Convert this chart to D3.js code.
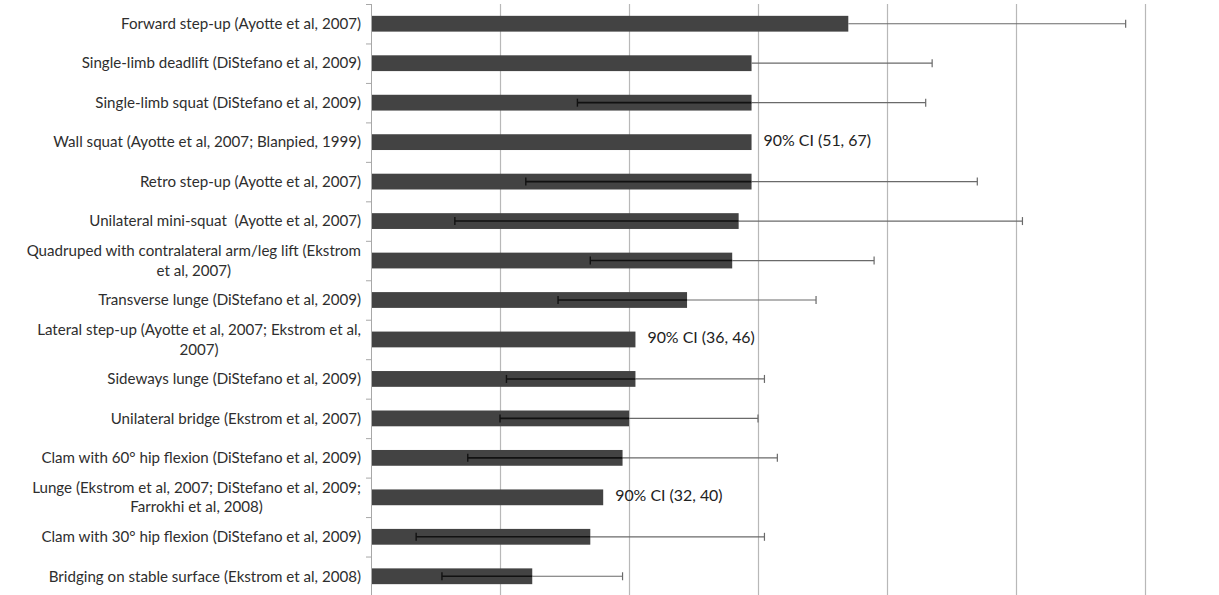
<!DOCTYPE html>
<html>
<head>
<meta charset="utf-8">
<script src="https://cdn.jsdelivr.net/npm/d3@7"></script>
<style>
  html, body { margin: 0; padding: 0; background: #ffffff; }
  svg { display: block; }
  text { font-family: Lato, "Open Sans", sans-serif; }
</style>
</head>
<body>
<svg id="chart" width="1219" height="595"></svg>
<script>
// ---- data ----
const categories = [
  "Forward step-up (Ayotte et al, 2007)",
  "Single-limb deadlift (DiStefano et al, 2009)",
  "Single-limb squat (DiStefano et al, 2009)",
  "Wall squat (Ayotte et al, 2007; Blanpied, 1999)",
  "Retro step-up (Ayotte et al, 2007)",
  "Unilateral mini-squat  (Ayotte et al, 2007)",
  "Quadruped with contralateral arm/leg lift (Ekstrom\net al, 2007)",
  "Transverse lunge (DiStefano et al, 2009)",
  "Lateral step-up (Ayotte et al, 2007; Ekstrom et al,\n2007)",
  "Sideways lunge (DiStefano et al, 2009)",
  "Unilateral bridge (Ekstrom et al, 2007)",
  "Clam with 60° hip flexion (DiStefano et al, 2009)",
  "Lunge (Ekstrom et al, 2007; DiStefano et al, 2009;\nFarrokhi et al, 2008)",
  "Clam with 30° hip flexion (DiStefano et al, 2009)",
  "Bridging on stable surface (Ekstrom et al, 2008)"
];
const means  = [74, 59, 59, 59, 59, 57, 56, 49, 41, 41, 40, 39, 36, 34, 25];
const lower  = [null, null, 32, null, 24, 13, 34, 29, null, 21, 20, 15, null, 7, 11];
const upper  = [117, 87, 86, null, 94, 101, 78, 69, null, 61, 60, 63, null, 61, 39];
const ciLabels = [null, null, null, "90% CI (51, 67)", null, null, null, null,
                  "90% CI (36, 46)", null, null, null, "90% CI (32, 40)", null, null];
const xTicks = [0, 20, 40, 60, 80, 100, 120, 140];

// ---- layout ----
const svg = d3.select("#chart");
const plotLeft = 371, plotTop = 4, plotBottom = 596;
const x = d3.scaleLinear().domain([0, 140]).range([plotLeft, plotLeft + 7 * 129]);
const y = d3.scaleBand().domain(d3.range(categories.length)).range([plotTop, plotBottom])
  .paddingInner(0.6).paddingOuter(0.3);
const step = y.step();

// font sizing to mimic Calibri metrics
function fitSize(str, target, base) {
  const t = svg.append("text").attr("font-size", base).text(str);
  const w = t.node().getComputedTextLength();
  t.remove();
  return base * target / w;
}
const labelSize = fitSize("Forward step-up (Ayotte et al, 2007)", 240, 20);
const ciSize = fitSize("90% CI (51, 67)", 107.5, 20);

// gridlines
svg.append("g").selectAll("line").data(xTicks.slice(1)).join("line")
  .attr("x1", d => Math.round(x(d)) + 0.5).attr("x2", d => Math.round(x(d)) + 0.5)
  .attr("y1", plotTop).attr("y2", plotBottom)
  .attr("stroke", "#b8b8b8").attr("stroke-width", 1.2);

// bars
svg.append("g").selectAll("rect").data(means).join("rect")
  .attr("x", x(0)).attr("y", (d, i) => y(i))
  .attr("width", d => x(d) - x(0)).attr("height", y.bandwidth())
  .attr("fill", "#434343");

// y axis line and ticks between categories
const axisG = svg.append("g");
axisG.append("line").attr("x1", plotLeft + 0.5).attr("x2", plotLeft + 0.5)
  .attr("y1", plotTop).attr("y2", plotBottom).attr("stroke", "#a8a8a8").attr("stroke-width", 1);
axisG.selectAll("line.tk").data(d3.range(categories.length + 1)).join("line")
  .attr("class", "tk")
  .attr("x1", plotLeft - 5).attr("x2", plotLeft)
  .attr("y1", i => plotTop + i * step + 0.5).attr("y2", i => plotTop + i * step + 0.5)
  .attr("stroke", "#a8a8a8").attr("stroke-width", 1);

// error bars
const eb = svg.append("g");
means.forEach((m, i) => {
  if (upper[i] == null) return;
  const cy = y(i) + y.bandwidth() / 2;
  const lo = lower[i] == null ? m : lower[i];
  eb.append("line").attr("x1", x(lo)).attr("x2", x(m)).attr("y1", cy).attr("y2", cy)
    .attr("stroke", "#111").attr("stroke-width", 1.6);
  eb.append("line").attr("x1", x(m)).attr("x2", x(upper[i])).attr("y1", cy).attr("y2", cy)
    .attr("stroke", "#6a6a6a").attr("stroke-width", 1.2);
  eb.append("line").attr("x1", x(upper[i])).attr("x2", x(upper[i]))
    .attr("y1", cy - 4).attr("y2", cy + 4).attr("stroke", "#6a6a6a").attr("stroke-width", 1.2);
  if (lower[i] != null) {
    eb.append("line").attr("x1", x(lo)).attr("x2", x(lo))
      .attr("y1", cy - 4).attr("y2", cy + 4).attr("stroke", "#111").attr("stroke-width", 1.4);
  }
});

// category labels (wrapped lines centred on each other, block right aligned)
const lab = svg.append("g").attr("font-size", labelSize).attr("fill", "#2e2e2e");
categories.forEach((c, i) => {
  const lines = c.split("\n");
  const cy = y(i) + y.bandwidth() / 2;
  const g = lab.append("g");
  const ts = lines.map(l => g.append("text").attr("xml:space", "preserve")
    .style("white-space", "pre").text(l));
  const widths = ts.map(t => t.node().getComputedTextLength());
  const W = Math.max(...widths);
  const lh = 19.5;
  ts.forEach((t, k) => {
    const off = (k - (lines.length - 1) / 2) * lh;
    t.attr("x", 361 - W / 2).attr("text-anchor", "middle")
     .attr("y", cy + off).attr("dy", "0.35em");
  });
});

// CI annotations
svg.append("g").attr("font-size", ciSize).attr("fill", "#222")
  .selectAll("text").data(ciLabels.map((t, i) => ({t, i})).filter(d => d.t))
  .join("text")
  .attr("x", d => x(means[d.i]) + 12)
  .attr("y", d => y(d.i) + y.bandwidth() / 2 - 2).attr("dy", "0.35em")
  .text(d => d.t);
</script>
</body>
</html>
